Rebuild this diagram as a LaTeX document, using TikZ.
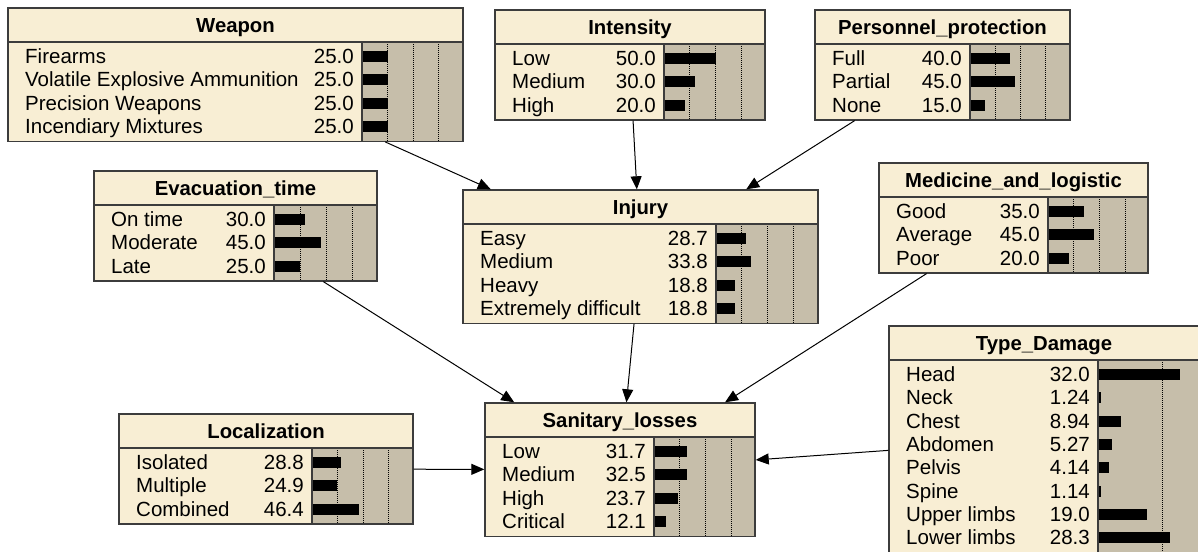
\documentclass[tikz,border=0pt]{standalone}
\usepackage{fontspec}
\setmainfont{Liberation Sans}
\usetikzlibrary{arrows.meta,fit}

\definecolor{titleColor}{RGB}{248,238,212}
\definecolor{barColor}{RGB}{198,190,170}
\definecolor{edgeColor}{RGB}{60,60,60}

\tikzset{
  stateText/.style={font=\fontsize{20.5}{24}\selectfont, inner sep=0},
  titleText/.style={font=\fontsize{20.3}{24}\selectfont\bfseries, inner sep=0},
  gridLine/.style={line width=0.8pt, dash pattern=on 1pt off 1pt},
  boxFrame/.style={draw=edgeColor, line width=1.4pt, inner sep=0},
  link/.style={line width=1pt, -{Triangle[length=13pt,width=11pt]}}
}

% \netNode{name}{left}{top}{bar left}{right}{px per percent}{rows}{title}{state/value,...}
\newcommand{\netNode}[9]{%
  \pgfmathsetmacro{\nodeBottom}{#3+40+23.3*#7}
  \fill[titleColor] (#2,#3) rectangle (#5,\nodeBottom);
  \fill[barColor] (#4,#3+34) rectangle (#5,\nodeBottom);
  \begin{scope}
    \clip (#4,#3+34) rectangle (#5,\nodeBottom);
    \foreach \p in {25,50,75}
      \draw[gridLine] ({#4+\p*#6},#3+34) -- ({#4+\p*#6},\nodeBottom);
  \end{scope}
  \foreach \stName/\stVal [count=\k from 0] in {#9} {
    \pgfmathsetmacro{\rowY}{#3+48.5+23.3*\k}
    \node[stateText,anchor=base west] at (#2+17,\rowY+7) {\stName};
    \node[stateText,anchor=base east] at (#4-8,\rowY+7) {\stVal};
    \fill (#4,\rowY-5.5) rectangle ({#4+\stVal*#6},\rowY+5.5);
  }
  \node[titleText,anchor=base] at ({(#2+#5)/2},#3+24.5) {#8};
  \draw[edgeColor,line width=1.4pt] (#2,#3+34) -- (#5,#3+34) (#4,#3+34) -- (#4,\nodeBottom);
  \node[boxFrame,fit={(#2,#3) (#5,\nodeBottom)}] (#1) {};
}

\begin{document}
\begin{tikzpicture}[x=1pt,y=-1pt]
  \useasboundingbox (0,0) rectangle (1198,551);
  \clip (0,0) rectangle (1198,551);
  \fill[white] (0,0) rectangle (1198,551);
  % Parents of Injury
  \netNode{weapon}{8}{8}{362}{463}{1.02}{4}{Weapon}{Firearms/25.0,Volatile Explosive Ammunition/25.0,Precision Weapons/25.0,Incendiary Mixtures/25.0}
  \netNode{intensity}{495}{10}{664}{765}{1.03}{3}{Intensity}{Low/50.0,Medium/30.0,High/20.0}
  \netNode{protection}{815}{10}{970}{1070}{1.0}{3}{Personnel\_protection}{Full/40.0,Partial/45.0,None/15.0}
  \netNode{injury}{463}{190}{716}{818}{1.03}{4}{Injury}{Easy/28.7,Medium/33.8,Heavy/18.8,Extremely difficult/18.8}
  % Parents of Sanitary_losses
  \netNode{evacuation}{94}{171}{274}{377}{1.04}{3}{Evacuation\_time}{On time/30.0,Moderate/45.0,Late/25.0}
  \netNode{medicine}{879}{163}{1048}{1148}{1.03}{3}{Medicine\_and\_logistic}{Good/35.0,Average/45.0,Poor/20.0}
  \netNode{localization}{119}{414}{312}{413}{1.02}{3}{Localization}{Isolated/28.8,Multiple/24.9,Combined/46.4}
  \netNode{typeDamage}{889}{326}{1098}{1199}{2.56}{8}{Type\_Damage}{Head/32.0,Neck/1.24,Chest/8.94,Abdomen/5.27,Pelvis/4.14,Spine/1.14,Upper limbs/19.0,Lower limbs/28.3}
  \netNode{sanitary}{485}{403}{654}{755}{1.03}{4}{Sanitary\_losses}{Low/31.7,Medium/32.5,High/23.7,Critical/12.1}
  % Links
  \draw[link] (weapon) -- (injury);
  \draw[link] (intensity) -- (injury);
  \draw[link] (protection) -- (injury);
  \draw[link] (evacuation) -- (sanitary);
  \draw[link] (injury) -- (sanitary);
  \draw[link] (medicine) -- (sanitary);
  \draw[link] (localization) -- (sanitary);
  \draw[link] (typeDamage) -- (sanitary);
\end{tikzpicture}
\end{document}
